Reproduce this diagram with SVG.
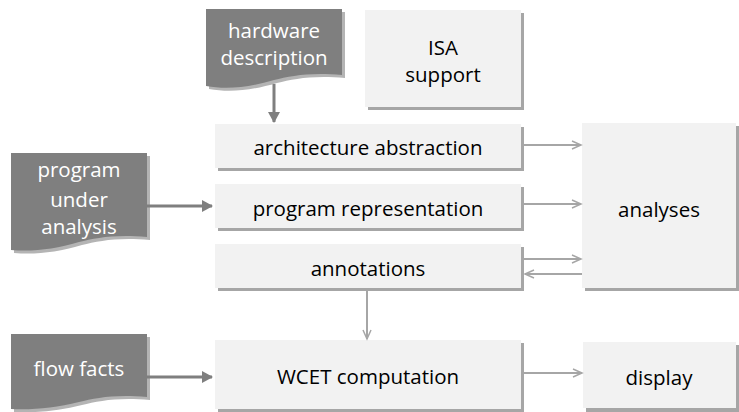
<svg xmlns="http://www.w3.org/2000/svg" width="739" height="412" viewBox="0 0 739 412">
<style>
.box{fill:#f2f2f2}
.sh{fill:#a6a6a6}
.doc{fill:#7f7f7f}
.dsh{fill:#b4b4b4}
.t{font-family:"Open Sans","Noto Sans",sans-serif;font-size:20.5px;fill:#000;text-anchor:middle}
.tw{font-family:"Open Sans","Noto Sans",sans-serif;font-size:20.5px;fill:#fff;text-anchor:middle}
.lc{stroke:#a6a6a6;stroke-width:2;fill:none}
.dc{stroke:#7f7f7f;stroke-width:3;fill:none}
</style>
<defs>
<marker id="open" markerWidth="12" markerHeight="10" refX="10" refY="5" orient="auto" markerUnits="userSpaceOnUse">
<path d="M1,1 L10,5 L1,9" fill="none" stroke="#a6a6a6" stroke-width="1.5"/>
</marker>
<marker id="solid" markerWidth="12" markerHeight="12" refX="10" refY="6" orient="auto" markerUnits="userSpaceOnUse">
<path d="M0,0 L11,6 L0,12 Z" fill="#7f7f7f"/>
</marker>
</defs>
<rect width="739" height="412" fill="#fff"/>

<g id="hardware">
<path class="dsh" d="M209,12 H345 V78 C313,75 293,79 277,83 C253,90 231,93 209,89 Z"/>
<path class="doc" d="M206,9 H342 V75 C310,72 290,76 274,80 C250,87 228,90 206,86 Z"/>
<text class="tw" x="274" y="38">hardware</text>
<text class="tw" x="274" y="65">description</text>
</g>

<g id="isa">
<rect class="sh" x="368" y="13" width="156" height="97"/>
<rect class="box" x="365" y="10" width="156" height="97"/>
<text class="t" x="443" y="55">ISA</text>
<text class="t" x="443" y="82">support</text>
</g>

<g id="arch">
<rect class="sh" x="218" y="127" width="306" height="44"/>
<rect class="box" x="215" y="124" width="306" height="44"/>
<text class="t" x="368" y="155">architecture abstraction</text>
</g>

<g id="progrep">
<rect class="sh" x="218" y="187" width="306" height="44"/>
<rect class="box" x="215" y="184" width="306" height="44"/>
<text class="t" x="368" y="216">program representation</text>
</g>

<g id="annot">
<rect class="sh" x="218" y="247" width="306" height="44"/>
<rect class="box" x="215" y="244" width="306" height="44"/>
<text class="t" x="368" y="276">annotations</text>
</g>

<g id="analyses">
<rect class="sh" x="585" y="126" width="154" height="165"/>
<rect class="box" x="582" y="123" width="154" height="165"/>
<text class="t" x="659" y="217">analyses</text>
</g>

<g id="wcet">
<rect class="sh" x="218" y="343" width="306" height="69"/>
<rect class="box" x="215" y="340" width="306" height="69"/>
<text class="t" x="368" y="384">WCET computation</text>
</g>

<g id="display">
<rect class="sh" x="586" y="345" width="153" height="67"/>
<rect class="box" x="583" y="342" width="153" height="66"/>
<text class="t" x="659" y="385">display</text>
</g>

<g id="program">
<path class="dsh" d="M14,156 H150 V240 C118,237 98,241 82,245 C58,252 36,255 14,253 Z"/>
<path class="doc" d="M11,153 H147 V237 C115,234 95,238 79,242 C55,249 33,252 11,250 Z"/>
<text class="tw" x="79" y="177">program</text>
<text class="tw" x="79" y="207">under</text>
<text class="tw" x="79" y="234">analysis</text>
</g>

<g id="flowfacts">
<path class="dsh" d="M14,337 H150 V400 C118,397 98,401 82,405 C58,411 36,413 14,412 Z"/>
<path class="doc" d="M11,334 H147 V397 C115,394 95,398 79,402 C55,408 33,410 11,409 Z"/>
<text class="tw" x="79" y="376">flow facts</text>
</g>

<g id="connectors">
<line class="dc" x1="274" y1="84" x2="274" y2="122" marker-end="url(#solid)"/>
<line class="dc" x1="147" y1="206" x2="212" y2="206" marker-end="url(#solid)"/>
<line class="dc" x1="147" y1="377" x2="212" y2="377" marker-end="url(#solid)"/>
<line class="lc" x1="524" y1="145" x2="581" y2="145" marker-end="url(#open)"/>
<line class="lc" x1="524" y1="204" x2="581" y2="204" marker-end="url(#open)"/>
<line class="lc" x1="524" y1="259" x2="581" y2="259" marker-end="url(#open)"/>
<line class="lc" x1="582" y1="274" x2="525" y2="274" marker-end="url(#open)"/>
<line class="lc" x1="367" y1="291" x2="367" y2="339" marker-end="url(#open)"/>
<line class="lc" x1="524" y1="373" x2="582" y2="373" marker-end="url(#open)"/>
</g>
</svg>
